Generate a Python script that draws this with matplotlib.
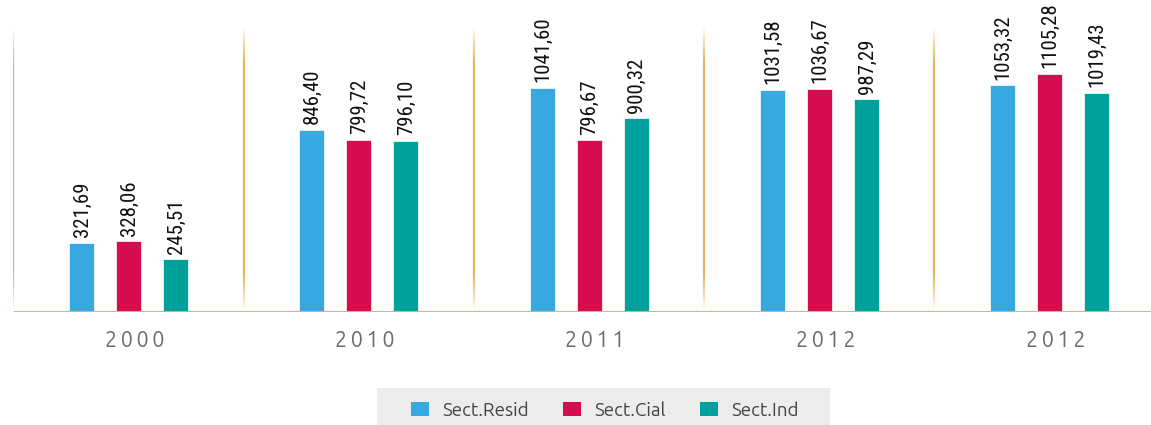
import numpy as np
import matplotlib.pyplot as plt
from matplotlib.collections import LineCollection
from matplotlib.patches import Patch, Rectangle

years = ["2000", "2010", "2011", "2012", "2012"]
resid = [321.69, 846.40, 1041.60, 1031.58, 1053.32]
cial = [328.06, 799.72, 796.67, 1036.67, 1105.28]
ind = [245.51, 796.10, 900.32, 987.29, 1019.43]

series = [("Sect.Resid", resid, "#38A9E0"),
          ("Sect.Cial", cial, "#D70C50"),
          ("Sect.Ind", ind, "#00A19A")]

gold = "#E2B55A"
W, H = 1151, 425
fig = plt.figure(figsize=(W / 100, H / 100), dpi=100)

# one unit on x = one year group (~230 px)
unit = 230.25
x0 = 13.4
ax = fig.add_axes([x0 / W, (H - 312) / H, (W - x0) / W, 312 / H])
ax.set_xlim(-0.5, -0.5 + (W - x0) / unit)
ax.set_ylim(0, 312 / 0.2153)
ax.axis("off")

x = np.arange(len(years))
offset = 47 / unit
width = 25 / unit
for i, (name, vals, col) in enumerate(series):
    pos = x + (i - 1) * offset
    ax.bar(pos, vals, width, color=col, edgecolor="white", linewidth=0.5, zorder=3)
    for px, v in zip(pos, vals):
        ax.annotate(f"{v:.2f}".replace(".", ","), (px, v), xytext=(0.5, 4),
                    textcoords="offset points", rotation=90, ha="center", va="bottom",
                    fontsize=15, family=["Roboto Condensed", "DejaVu Sans"],
                    color="#111111", annotation_clip=False)

# baseline
ax.axhline(0, color=gold, lw=2.2, zorder=4, solid_capstyle="butt")

# faded separators between groups
ytop = (312 - 25) / 0.2153
ys = np.linspace(0, ytop, 120)
fade = np.clip(np.sin(np.linspace(0, np.pi, len(ys) - 1)) * 2.5, 0, 1)
for sx in np.arange(len(years)) - 0.5:
    segs = [[(sx, ys[k]), (sx, ys[k + 1])] for k in range(len(ys) - 1)]
    cols = [(0.886, 0.71, 0.353, a) for a in fade]
    ax.add_collection(LineCollection(segs, colors=cols, linewidths=1.6, zorder=1))

# year labels below the baseline
for xi, yr in zip(x, years):
    ax.text(xi + 6 / unit, -28 / 0.2153, "\u2009".join(yr), ha="center", va="center",
            fontsize=15.5, color="#6b6b6b", family=["Ubuntu", "DejaVu Sans"],
            fontweight="light")

# legend strip
fig.patches.append(Rectangle((377 / W, 0), 453 / W, 37 / H, transform=fig.transFigure,
                             facecolor="#ECECEC", edgecolor="none", zorder=0))
handles = [Patch(facecolor=c, label=n) for n, _, c in series]
leg = fig.legend(handles=handles, loc="center", ncol=3,
                 bbox_to_anchor=(605 / W, 15 / H), frameon=False,
                 handlelength=0.95, handleheight=0.78, handletextpad=0.7,
                 columnspacing=1.85, borderaxespad=0,
                 prop={"family": "Ubuntu", "size": 13.5, "weight": "light"})
for t in leg.get_texts():
    t.set_color("#444444")

fig.savefig("out.png", dpi=100)
